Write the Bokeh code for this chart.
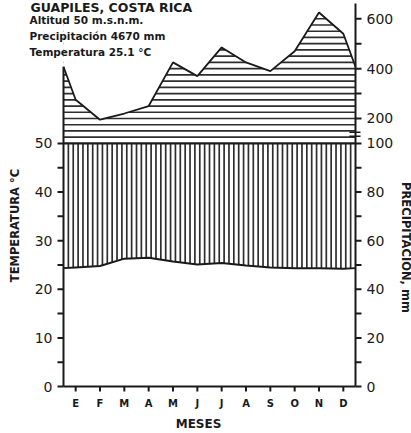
import numpy as np
from bokeh.plotting import figure
from bokeh.models import Range1d
from bokeh.core.properties import value
from bokeh.embed import file_html
from bokeh.resources import INLINE

# ---------------- data ----------------
months = ["E", "F", "M", "A", "M", "J", "J", "A", "S", "O", "N", "D"]
precip_mm = [275, 195, 220, 250, 425, 370, 485, 425, 390, 470, 625, 540]
temp_c = [24.5, 24.8, 26.3, 26.5, 25.7, 25.1, 25.4, 24.9, 24.5, 24.3, 24.3, 24.2]
temp_ticks = [0, 10, 20, 30, 40, 50]
temp_minor = [5, 15, 25, 35, 45]
precip_ticks_mm = [0, 20, 40, 60, 80, 100, 200, 400, 600]
precip_minor_mm = [10, 30, 50, 70, 90, 300, 500]
station = "GUAPILES, COSTA RICA"
info_lines = ["Altitud 50 m.s.n.m.", "Precipitación 4670 mm", "Temperatura 25.1 °C"]
y_title = "TEMPERATURA °C"
y2_title = "PRECIPITACION, mm"
x_title = "MESES"


def mm_to_scale(mm):
    mm = np.asarray(mm, dtype=float)
    return np.where(mm <= 100, mm / 2.0, 50.0 + (mm - 100.0) / 19.5)


# ---------------- geometry helpers (canvas px -> data) ----------------
W, H = 411, 433
FX0, FX1, FY0 = 63, 355, 386          # plot box left/right/bottom in px
PXX = (FX1 - FX0) / 12.0              # px per month
PXY = 386 / 79.4                      # px per temperature unit


def X(px):
    return (px - FX0) / PXX - 0.5


def Y(py):
    return (FY0 - py) / PXY


mx = np.arange(len(months), dtype=float)
ps = mm_to_scale(precip_mm)
tc = np.asarray(temp_c, dtype=float)
# curves extended to the box edges (Dec/Jan wrap-around)
xe = np.concatenate([[-0.5], mx, [11.5]])
pe = np.concatenate([[(ps[0] + ps[-1]) / 2], ps, [(ps[0] + ps[-1]) / 2]])
te = np.concatenate([[(tc[0] + tc[-1]) / 2], tc, [(tc[0] + tc[-1]) / 2]])

YTOP = Y(0)
ink = "#1a1a1a"
hatch = "#2e2e2e"

p = figure(width=W, height=H, x_range=Range1d(X(0), X(W)), y_range=Range1d(Y(H), Y(0)),
           output_backend="svg", toolbar_location=None, title=None,
           x_axis_type=None, y_axis_type=None,
           min_border_left=0, min_border_right=0, min_border_top=0, min_border_bottom=0)
p.grid.visible = False
p.outline_line_color = None
p.background_fill_color = "white"
p.border_fill_color = "white"

# horizontal hatching (precipitation > 100 mm)
step = float(mm_to_scale(125) - 50)
levels = 50 + step * np.arange(1, int((YTOP - 50) / step) + 1)
p.segment(x0=np.full(len(levels), -0.5), y0=levels, x1=np.full(len(levels), 11.5), y1=levels,
          line_color=hatch, line_width=1.7)
# white mask above precipitation curve
p.patch(np.concatenate([xe, [11.5, -0.5]]), np.concatenate([pe, [YTOP + 5, YTOP + 5]]),
        fill_color="white", line_color=None)

# vertical hatching (humid period, temperature -> 100 mm)
xv = -0.5 + 0.2 * np.arange(1, 60)
yv = np.interp(xv, xe, te)
p.segment(x0=xv, y0=yv, x1=xv, y1=np.full(len(xv), 50.0), line_color=hatch, line_width=1.7)

# 100 mm line
p.segment(x0=[-0.5], y0=[50], x1=[11.5], y1=[50], line_color=ink, line_width=2.2)
# curves
p.line(xe, pe, line_color=ink, line_width=1.8)
p.line(xe, te, line_color=ink, line_width=2.0)

# break marks on the precipitation axis
p.segment(x0=[11.25, 11.25], y0=[51.5, 52.3], x1=[X(FX1 + 5)] * 2, y1=[51.5, 52.3],
          line_color=ink, line_width=1.5)

# ---------------- axes (drawn with the figure's scales) ----------------
tick_dx = 6 / PXX
tick_dy = 5 / PXY
# axis lines
p.segment(x0=[-0.5, -0.5, 11.5], y0=[0, 0, 0], x1=[-0.5, 11.5, 11.5],
          y1=[float(pe[0]), 0, Y(3)], line_color=ink, line_width=2)
# left ticks + labels
lt = np.array(temp_ticks + temp_minor, dtype=float)
p.segment(x0=np.full(len(lt), -0.5), y0=lt, x1=np.full(len(lt), -0.5 - tick_dx), y1=lt,
          line_color=ink, line_width=2)
p.text(x=np.full(len(temp_ticks), X(FX0 - 11)), y=temp_ticks, text=[str(t) for t in temp_ticks],
       text_font=value("DejaVu Sans"), text_font_size="14px", text_color=ink,
       text_align="right", text_baseline="middle")
# right ticks + labels
rt = np.concatenate([mm_to_scale(precip_ticks_mm), mm_to_scale(precip_minor_mm)])
p.segment(x0=np.full(len(rt), 11.5), y0=rt, x1=np.full(len(rt), 11.5 + tick_dx), y1=rt,
          line_color=ink, line_width=2)
p.text(x=np.full(len(precip_ticks_mm), X(FX1 + 11)), y=mm_to_scale(precip_ticks_mm),
       text=[str(m) for m in precip_ticks_mm],
       text_font=value("DejaVu Sans"), text_font_size="14px", text_color=ink,
       text_align="left", text_baseline="middle")
# bottom ticks + labels
p.segment(x0=mx, y0=np.zeros(len(mx)), x1=mx, y1=np.full(len(mx), -tick_dy),
          line_color=ink, line_width=2)
p.text(x=mx, y=np.full(len(mx), Y(403)), text=months,
       text_font=value("DejaVu Sans"), text_font_style="bold", text_font_size="10px",
       text_color=ink, text_align="center", text_baseline="middle")

# ---------------- texts ----------------
def add_text(txt, x, y, size, angle=0.0, align="left", baseline="middle"):
    p.text(x=[x], y=[y], text=[txt], angle=angle, text_font=value("DejaVu Sans"),
           text_font_style="bold", text_font_size=size, text_color=ink,
           text_align=align, text_baseline=baseline)


add_text(station, X(30), Y(6.5), "12.5px")
for txt, py in zip(info_lines, [19.5, 35.5, 51.5]):
    add_text(txt, X(29), Y(py), "10.5px")
add_text(y_title, X(14), Y(225), "11.5px", angle=np.pi / 2, align="center")
add_text(y2_title, X(405), Y(247), "11.5px", angle=-np.pi / 2, align="center")
add_text(x_title, X(198), Y(423), "12px", align="center")

open("out.html", "w").write(file_html(p, INLINE))
